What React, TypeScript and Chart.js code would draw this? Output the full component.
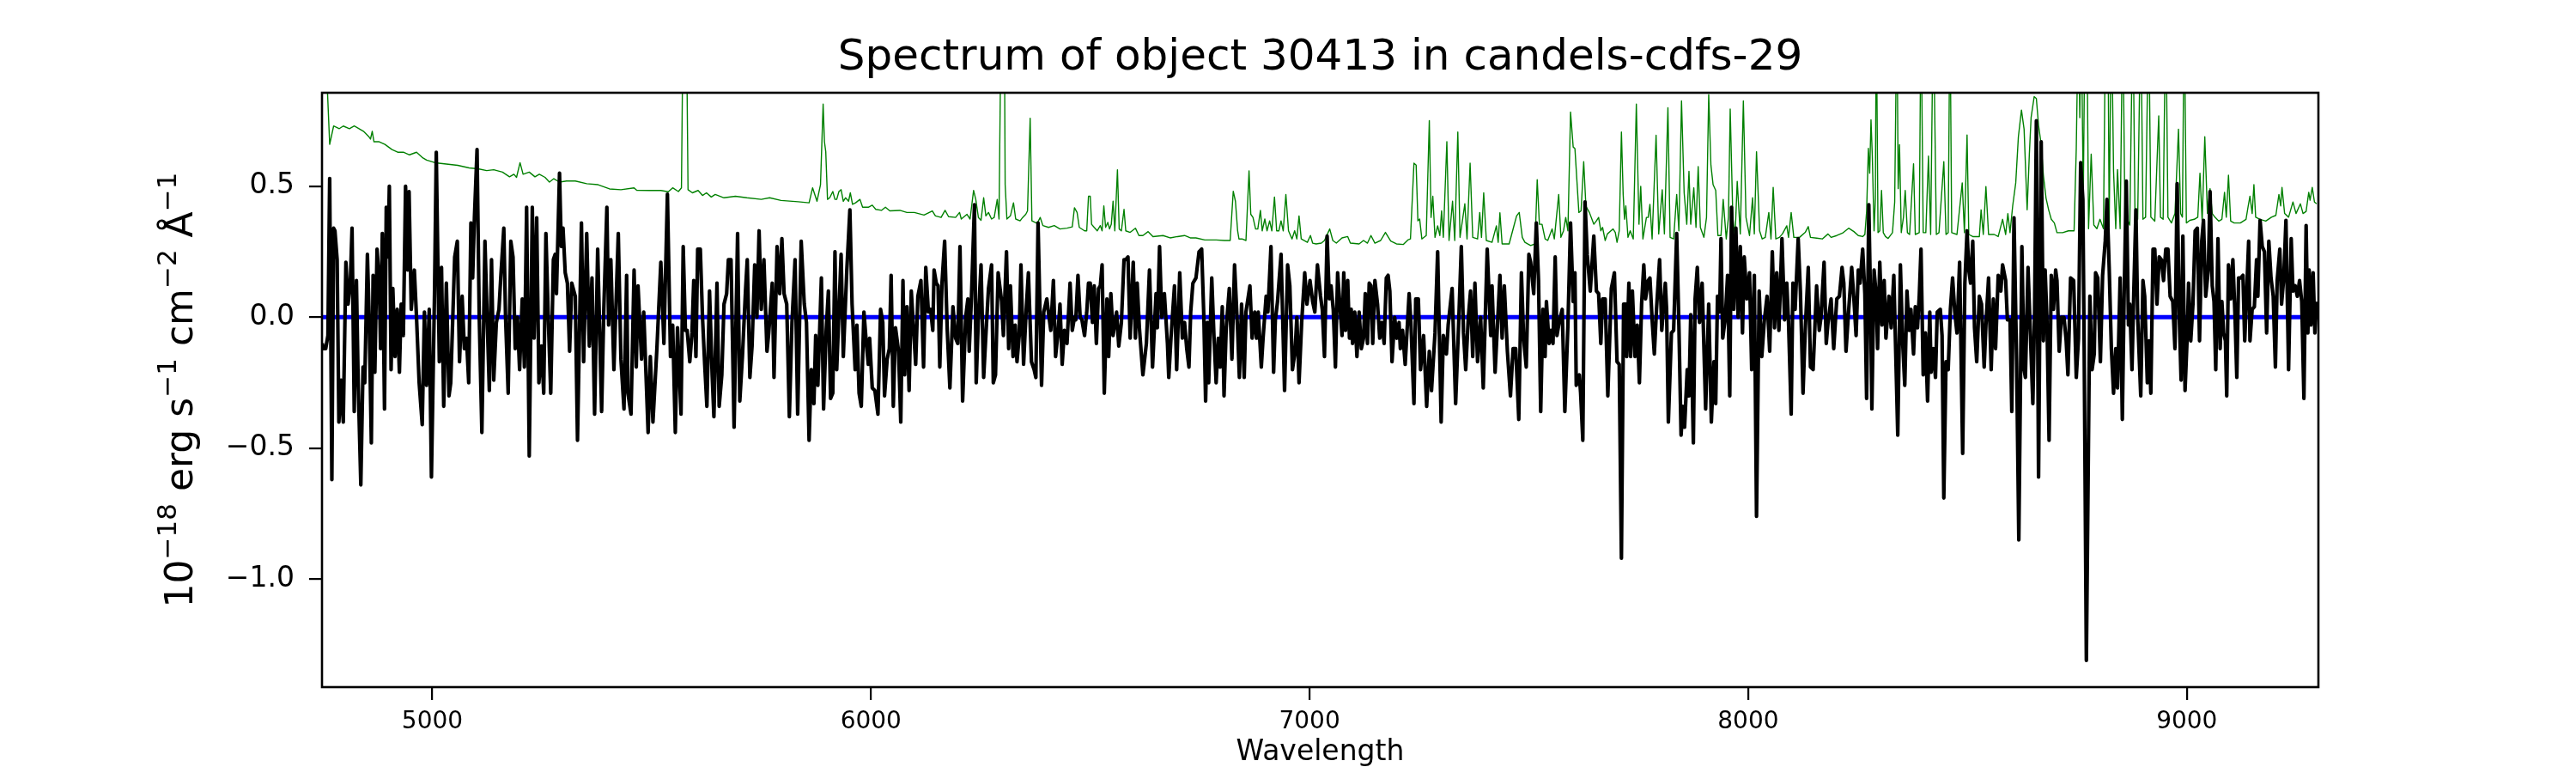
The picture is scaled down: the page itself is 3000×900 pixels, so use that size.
import React, { useEffect, useRef } from 'react';
import Chart from 'chart.js/auto';

const TITLE = 'Spectrum of object 30413 in candels-cdfs-29';
const X_LABEL = 'Wavelength';
// y label pieces: [text, isSuperscript]
const Y_LABEL_PARTS: [string, boolean][] = [
  ['10', false], ['\u221218', true], [' erg s', false], ['\u22121', true],
  [' cm', false], ['\u22122', true], [' \u00c5', false], ['\u22121', true],
];
const X_TICKS = [5000, 6000, 7000, 8000, 9000];
const Y_TICKS = [-1.0, -0.5, 0.0, 0.5];
const X_MIN = 4748.5;
const X_MAX = 9300;
const Y_MIN = -1.412;
const Y_MAX = 0.857;
const ZERO_LEVEL = 0;

// measured spectrum, [wavelength, flux]
const FLUX: [number, number][] = [
  [4749, -0.10], [4752, -0.12], [4757, -0.12], [4762, -0.07], [4766, 0.53], [4771, -0.62], [4775, 0.34], [4778, 0.33], [4783, 0.22], [4787, -0.40],
  [4792, -0.24], [4797, -0.40], [4803, 0.21], [4808, 0.05], [4813, 0.13], [4817, 0.34], [4822, -0.36], [4827, 0.14], [4831, -0.25], [4837, -0.64],
  [4842, -0.19], [4846, -0.25], [4852, 0.24], [4856, 0.00], [4861, -0.48], [4865, 0.16], [4869, -0.21], [4874, 0.26], [4879, 0.14], [4882, -0.12],
  [4886, 0.32], [4891, -0.35], [4895, 0.42], [4899, 0.23], [4902, 0.50], [4906, -0.20], [4910, 0.11], [4915, -0.15], [4920, 0.03], [4925, -0.21],
  [4929, 0.05], [4934, -0.07], [4939, 0.50], [4944, 0.18], [4947, 0.48], [4952, 0.03], [4959, 0.18], [4964, 0.00], [4970, -0.25], [4977, -0.41],
  [4982, 0.02], [4987, -0.26], [4993, 0.03], [4998, -0.61], [5005, 0.09], [5009, 0.63], [5016, -0.17], [5021, 0.19], [5026, -0.34], [5032, 0.13],
  [5038, -0.30], [5042, -0.25], [5051, 0.23], [5057, 0.29], [5062, -0.17], [5068, 0.08], [5073, -0.12], [5078, -0.08], [5083, -0.25], [5088, 0.36],
  [5092, 0.15], [5096, 0.38], [5102, 0.64], [5107, 0.00], [5113, -0.44], [5120, 0.29], [5125, 0.00], [5130, -0.28], [5135, 0.22], [5140, -0.24],
  [5146, -0.02], [5152, 0.03], [5156, 0.15], [5163, 0.34], [5167, 0.00], [5173, -0.29], [5179, 0.29], [5184, 0.23], [5189, -0.12], [5194, 0.00],
  [5199, -0.20], [5205, 0.07], [5210, -0.19], [5215, 0.42], [5221, -0.53], [5228, 0.42], [5232, -0.08], [5238, 0.38], [5243, -0.25], [5249, -0.11],
  [5254, -0.29], [5259, 0.32], [5264, 0.02], [5270, -0.29], [5276, 0.22], [5280, 0.24], [5283, 0.09], [5290, 0.55], [5294, 0.27], [5298, 0.34],
  [5303, 0.17], [5308, 0.13], [5313, -0.13], [5318, 0.13],
  [5326, 0.08], [5331, -0.47], [5340, 0.36], [5345, -0.17], [5352, 0.32], [5358, -0.11], [5364, 0.15], [5370, -0.37], [5377, 0.26], [5386, -0.36],
  [5391, 0.03], [5398, 0.42], [5402, -0.03], [5407, 0.22], [5414, -0.20], [5424, 0.32], [5430, -0.16], [5437, -0.35], [5443, 0.16], [5446, -0.29],
  [5453, -0.37], [5460, 0.18], [5465, -0.19], [5469, 0.12], [5477, -0.16], [5482, 0.02], [5492, -0.44], [5497, -0.15], [5503, -0.40], [5512, -0.12],
  [5521, 0.21], [5528, -0.10], [5536, 0.47], [5543, -0.15], [5548, -0.03], [5554, -0.44], [5559, -0.04], [5567, -0.37], [5572, 0.27], [5577, -0.05],
  [5581, -0.05], [5587, -0.17], [5592, -0.06], [5596, 0.14], [5601, -0.15], [5605, 0.26], [5611, 0.26], [5616, 0.00], [5621, -0.18], [5626, -0.34],
  [5632, 0.10], [5638, -0.22], [5642, -0.38], [5649, 0.13], [5654, -0.34], [5660, -0.22], [5665, 0.05], [5671, 0.09], [5675, 0.22], [5681, 0.22],
  [5688, -0.42], [5696, 0.32], [5701, -0.32], [5707, -0.15], [5714, 0.10], [5718, 0.22], [5724, -0.23], [5729, -0.11], [5735, 0.20], [5740, 0.00],
  [5745, 0.33], [5750, 0.03], [5756, 0.22], [5763, -0.13], [5767, -0.06], [5775, 0.13], [5779, -0.23], [5786, 0.27], [5792, 0.09], [5797, 0.30],
  [5802, 0.09], [5808, 0.05], [5814, -0.38], [5820, -0.02], [5827, 0.22], [5833, -0.37], [5841, 0.29], [5848, 0.05], [5853, -0.02], [5859, -0.47],
  [5864, -0.20], [5870, -0.33], [5874, -0.07], [5879, -0.26], [5887, 0.15], [5892, -0.35], [5898, -0.05], [5903, 0.10], [5908, -0.31],
  [5913, -0.29], [5918, 0.25], [5922, -0.20], [5932, 0.24], [5937, -0.15], [5945, 0.18], [5952, 0.41], [5957, 0.05], [5964, -0.20], [5968, -0.03],
  [5973, -0.29], [5978, -0.34], [5984, 0.02], [5990, -0.11], [5994, -0.18], [5997, -0.08], [6003, -0.27], [6009, -0.28], [6016, -0.37], [6022, 0.03],
  [6027, -0.02], [6031, -0.30], [6037, -0.16], [6042, -0.12], [6046, 0.16], [6051, -0.34], [6056, -0.04], [6063, -0.13], [6068, -0.40], [6073, 0.14],
  [6077, -0.22], [6082, 0.04], [6087, -0.28], [6092, 0.10], [6102, -0.18], [6107, 0.08], [6114, 0.14], [6120, -0.19], [6125, 0.19], [6131, 0.02],
  [6136, 0.03], [6141, -0.05], [6144, 0.18], [6149, 0.13], [6153, 0.12], [6157, -0.19], [6162, 0.13], [6168, 0.29], [6174, -0.05], [6180, -0.27],
  [6187, 0.04], [6193, -0.08], [6198, -0.10], [6203, 0.27], [6209, -0.32], [6216, 0.00], [6221, 0.07], [6224, -0.13], [6229, 0.07], [6236, 0.43],
  [6240, -0.25], [6245, 0.00], [6251, 0.20], [6257, -0.23], [6262, -0.07], [6268, 0.11], [6275, 0.20], [6279, -0.25], [6284, -0.22], [6290, 0.17],
  [6298, 0.06], [6302, -0.07], [6309, 0.25], [6314, -0.12], [6318, 0.12], [6324, -0.15], [6329, -0.03], [6333, -0.17], [6338, -0.07], [6342, 0.20],
  [6348, -0.18], [6354, 0.03], [6359, 0.17], [6366, -0.17], [6372, -0.20], [6376, -0.23], [6381, 0.36], [6389, -0.26], [6394, 0.02], [6401, 0.07],
  [6406, 0.00], [6410, -0.05], [6416, 0.14], [6421, -0.15], [6427, -0.05], [6431, 0.05], [6436, -0.18], [6441, -0.05], [6447, -0.10], [6454, 0.13],
  [6459, -0.05], [6464, 0.00], [6467, -0.01], [6472, 0.16], [6477, 0.00], [6481, -0.01], [6487, -0.07], [6492, 0.02], [6496, 0.13],
  [6500, 0.13], [6505, -0.02], [6509, 0.12], [6514, -0.10], [6519, 0.11], [6523, 0.12], [6527, 0.20], [6532, -0.29], [6538, 0.07], [6542, -0.15],
  [6547, 0.09], [6552, -0.07], [6560, 0.02], [6565, -0.11], [6571, -0.02], [6577, 0.22], [6581, 0.22], [6586, 0.23], [6591, -0.08], [6598, 0.21],
  [6603, -0.08], [6607, 0.13], [6612, -0.04], [6620, -0.22], [6628, -0.10], [6635, 0.18], [6642, -0.19], [6650, 0.09], [6653, -0.04], [6658, 0.27],
  [6663, 0.00], [6669, 0.09], [6676, -0.10], [6679, -0.23], [6684, -0.08], [6692, 0.12], [6697, -0.20], [6704, 0.17], [6710, -0.08], [6715, -0.02],
  [6720, -0.12], [6725, -0.19], [6729, 0.02], [6734, 0.13], [6741, 0.15], [6748, 0.25], [6754, 0.26], [6759, 0.00], [6763, -0.32], [6767, -0.02],
  [6770, -0.25], [6777, 0.15], [6782, -0.07], [6787, -0.25], [6792, -0.08], [6796, -0.19], [6801, 0.04], [6805, -0.30], [6810, -0.04], [6817, 0.11],
  [6823, -0.16], [6829, 0.20], [6836, -0.05], [6840, -0.23], [6845, 0.05], [6851, -0.23], [6855, 0.02], [6864, 0.12], [6869, -0.08], [6875, 0.02],
  [6879, -0.08], [6883, 0.02], [6890, -0.19], [6894, -0.08], [6901, 0.08], [6905, 0.02], [6912, 0.27], [6918, -0.21], [6922, -0.01], [6927, 0.06],
  [6935, 0.24], [6943, -0.28], [6950, 0.20], [6955, 0.12], [6961, -0.20], [6967, -0.13], [6971, 0.00], [6976, -0.25], [6982, -0.02], [6989, 0.17],
  [6994, 0.05], [7001, 0.14], [7007, 0.06], [7012, 0.02], [7018, 0.20], [7025, 0.08], [7029, 0.03], [7034, -0.15], [7040, 0.31], [7045, 0.07],
  [7049, 0.12], [7054, 0.03], [7059, -0.19], [7064, 0.17], [7069, 0.05], [7074, -0.07], [7078, 0.17], [7082, -0.05],
  [7087, 0.14], [7091, -0.08], [7095, 0.03], [7098, -0.10], [7103, 0.02], [7108, -0.15], [7113, 0.02], [7118, -0.12], [7123, -0.08], [7127, 0.09],
  [7132, -0.10], [7136, 0.13], [7140, 0.12], [7144, -0.10], [7149, 0.14], [7155, 0.05], [7160, -0.08], [7165, -0.02], [7170, -0.10], [7175, 0.15],
  [7179, 0.16], [7183, 0.10], [7188, -0.17], [7194, 0.00], [7199, -0.08], [7204, -0.02], [7207, -0.12], [7212, -0.05], [7218, -0.18], [7227, 0.09],
  [7231, -0.02], [7238, -0.33], [7242, 0.07], [7248, 0.07], [7253, -0.20], [7260, -0.07], [7267, -0.34], [7273, -0.13], [7278, -0.28], [7286, -0.06],
  [7292, 0.25], [7300, -0.40], [7305, -0.07], [7312, -0.14], [7316, -0.03], [7325, 0.11], [7333, -0.33], [7340, -0.02], [7346, 0.27], [7351, -0.06],
  [7356, -0.20], [7362, 0.00], [7367, 0.10], [7372, -0.15], [7377, 0.13], [7383, -0.17], [7390, 0.00], [7396, -0.27], [7405, 0.26], [7413, -0.07],
  [7416, 0.12], [7423, -0.21], [7434, 0.16], [7439, -0.08], [7444, 0.12], [7451, -0.13], [7458, -0.30], [7464, -0.12], [7470, -0.12], [7477, -0.39],
  [7483, 0.17], [7488, -0.08], [7494, -0.19], [7500, 0.24], [7504, 0.21], [7511, 0.09], [7517, 0.36], [7522, 0.14], [7527, -0.36], [7532, 0.03],
  [7537, -0.15], [7540, 0.06], [7546, -0.10], [7550, -0.05], [7555, -0.10], [7560, 0.23], [7564, -0.07], [7569, -0.02], [7576, 0.03], [7582, -0.36],
  [7589, -0.03], [7595, 0.36], [7601, 0.06], [7605, 0.17], [7608, -0.26], [7615, -0.22], [7618, -0.29], [7623, -0.47], [7628, 0.44], [7633, 0.24],
  [7640, 0.10], [7648, 0.31], [7654, 0.10], [7659, 0.09], [7664, -0.10], [7668, 0.07],
  [7674, 0.07], [7680, -0.30], [7688, 0.11], [7695, 0.17], [7701, -0.17], [7706, -0.18], [7711, -0.92], [7716, 0.05], [7721, 0.05], [7723, -0.15],
  [7728, 0.13], [7732, -0.15], [7736, 0.10], [7742, -0.15], [7747, -0.03], [7752, -0.25], [7757, 0.05], [7762, 0.20], [7766, 0.07], [7772, 0.14],
  [7776, 0.15], [7781, -0.01], [7786, -0.14], [7791, 0.03], [7798, 0.22], [7803, -0.05], [7811, 0.13], [7814, 0.03], [7818, -0.40], [7825, -0.06],
  [7830, -0.05], [7837, 0.32], [7842, -0.03], [7847, -0.45], [7851, -0.34], [7855, -0.42], [7861, -0.20], [7865, -0.30], [7869, 0.01], [7875, -0.48],
  [7879, 0.07], [7884, 0.19], [7889, -0.02], [7895, 0.13], [7903, -0.35], [7910, 0.05], [7916, -0.40], [7922, -0.17], [7926, -0.33], [7930, 0.08],
  [7935, 0.02], [7938, 0.30], [7942, -0.08], [7948, 0.00], [7953, 0.16], [7958, -0.30], [7962, 0.42], [7967, 0.03], [7972, 0.34], [7977, 0.00],
  [7982, 0.27], [7987, -0.06], [7991, 0.23], [7997, 0.07], [8003, 0.17], [8008, -0.20], [8014, 0.16], [8019, -0.76], [8025, 0.10], [8031, -0.15],
  [8037, -0.01], [8043, 0.08], [8049, -0.13], [8055, 0.25], [8060, -0.04], [8065, 0.17], [8070, -0.05], [8077, 0.30], [8083, -0.01], [8088, 0.13],
  [8092, -0.02], [8098, -0.37], [8102, 0.13], [8107, 0.03], [8114, 0.30], [8119, 0.10], [8125, -0.29], [8130, -0.05], [8137, 0.19], [8142, -0.19],
  [8148, -0.20], [8156, 0.12], [8162, -0.05], [8166, 0.00], [8173, 0.21], [8178, -0.10], [8182, -0.02], [8189, 0.07], [8195, -0.12], [8202, 0.07],
  [8208, 0.08], [8214, 0.19], [8218, 0.13], [8223, -0.13], [8228, 0.00], [8236, 0.19], [8241, 0.07], [8246, -0.07], [8251, 0.18], [8255, 0.13],
  [8261, 0.26], [8266, 0.09], [8270, -0.31], [8275, 0.43], [8279, 0.06], [8282, -0.35], [8287, 0.18], [8292, 0.08], [8295, -0.12], [8300, 0.21],
  [8305, -0.03], [8310, 0.14], [8314, -0.08], [8321, 0.08], [8326, -0.04], [8332, 0.16], [8341, -0.45], [8347, 0.20], [8352, -0.09], [8357, -0.26],
  [8362, 0.10], [8367, -0.05], [8371, 0.03], [8377, -0.14], [8381, 0.04], [8386, -0.04], [8390, 0.08], [8394, 0.26], [8399, -0.22], [8404, -0.06],
  [8409, -0.32], [8414, 0.02], [8417, -0.21], [8422, -0.12], [8427, -0.23], [8431, 0.02], [8438, 0.03], [8442, -0.07], [8446, -0.69], [8451, -0.17],
  [8456, -0.20], [8461, 0.03], [8466, 0.15], [8471, 0.02], [8476, -0.06], [8482, 0.21], [8489, -0.52], [8494, 0.13], [8499, 0.33], [8503, 0.18],
  [8507, 0.13], [8512, 0.29], [8516, -0.04], [8521, -0.17], [8527, 0.08], [8532, 0.05], [8538, -0.19], [8542, -0.03], [8548, 0.15], [8554, -0.20],
  [8559, 0.07], [8564, -0.12], [8570, 0.16], [8576, 0.10], [8580, 0.20], [8587, 0.14], [8591, -0.01], [8597, -0.01], [8601, -0.36], [8606, 0.38],
  [8612, -0.17], [8617, -0.85], [8624, 0.27], [8629, -0.20], [8632, -0.23], [8638, 0.19], [8642, 0.00], [8649, -0.33], [8653, 0.03], [8657, 0.75],
  [8662, -0.61], [8668, 0.67], [8673, -0.09], [8677, 0.18], [8681, 0.00], [8686, -0.47], [8691, 0.16], [8696, 0.03], [8701, 0.18], [8704, 0.14],
  [8709, -0.13], [8714, 0.00], [8720, 0.00], [8725, -0.09], [8729, -0.22], [8735, 0.15], [8742, 0.14], [8748, -0.23], [8753, -0.08], [8758, 0.59],
  [8763, 0.45], [8766, -0.12], [8771, -1.31], [8779, 0.08], [8784, -0.20], [8789, -0.14], [8792, 0.17], [8797, 0.15], [8803, -0.17], [8808, 0.16],
  [8814, 0.29], [8818, 0.45], [8823, 0.19], [8828, -0.12], [8833, -0.29], [8838, -0.12], [8842, -0.27],
  [8848, 0.15], [8853, -0.39], [8857, 0.07], [8862, 0.52], [8867, -0.03], [8870, 0.05], [8875, -0.20], [8879, 0.09], [8884, 0.41], [8888, 0.00],
  [8895, -0.30], [8900, 0.14], [8904, 0.08], [8910, -0.25], [8914, -0.09], [8918, -0.29], [8923, 0.26], [8927, 0.26], [8932, 0.05], [8937, 0.23],
  [8942, 0.22], [8947, 0.14], [8952, 0.26], [8957, 0.26], [8962, 0.08], [8968, 0.06], [8973, -0.12], [8978, 0.51], [8983, -0.01], [8987, -0.24],
  [8991, 0.31], [8996, -0.28], [9001, -0.07], [9004, 0.13], [9009, -0.09], [9014, 0.05], [9019, 0.33], [9024, 0.34], [9029, -0.09], [9034, 0.29],
  [9038, 0.37], [9043, 0.08], [9049, 0.18], [9053, 0.48], [9058, 0.12], [9062, 0.06], [9066, -0.20], [9071, 0.30], [9076, -0.12], [9080, 0.06],
  [9084, -0.06], [9088, -0.09], [9091, -0.30], [9095, 0.20], [9100, 0.07], [9105, 0.22], [9110, 0.00], [9114, -0.23], [9118, 0.15], [9123, 0.15],
  [9128, 0.16], [9132, -0.09], [9137, 0.12], [9141, 0.29], [9144, -0.09], [9149, 0.03], [9154, 0.04], [9159, 0.22], [9162, 0.08], [9167, 0.37],
  [9172, 0.27], [9177, 0.25], [9182, -0.06], [9187, 0.29], [9192, 0.15], [9197, 0.08], [9202, -0.19], [9206, 0.14], [9212, 0.26], [9216, 0.05],
  [9221, 0.15], [9226, 0.37], [9232, -0.20], [9238, 0.30], [9242, 0.10], [9247, 0.12], [9252, 0.08], [9257, 0.14], [9262, 0.06], [9267, -0.31],
  [9272, 0.35], [9276, -0.06], [9279, 0.18], [9283, -0.03], [9288, 0.17], [9292, -0.06], [9296, 0.06],
];

// model / sky curve, [wavelength, flux]; values above the axis are cut off
const MODEL: [number, number][] = [
  [4749, 1.2], [4760, 0.9], [4766, 0.66], [4775, 0.73], [4788, 0.72], [4797, 0.73], [4811, 0.72], [4822, 0.73], [4833, 0.72], [4843, 0.71],
  [4855, 0.69], [4859, 0.68], [4863, 0.71], [4867, 0.67], [4879, 0.67], [4892, 0.66], [4908, 0.64], [4921, 0.63], [4934, 0.63], [4948, 0.62],
  [4964, 0.63], [4977, 0.61], [4987, 0.60], [5006, 0.59], [5032, 0.585], [5058, 0.58], [5084, 0.57], [5104, 0.567], [5124, 0.56], [5140, 0.563],
  [5160, 0.554], [5176, 0.536], [5186, 0.546], [5192, 0.534], [5200, 0.59], [5207, 0.546], [5221, 0.554], [5234, 0.536], [5244, 0.546], [5257, 0.534],
  [5267, 0.516], [5277, 0.529], [5290, 0.516], [5306, 0.52],
  [5326, 0.52], [5352, 0.51], [5378, 0.506], [5404, 0.49], [5430, 0.487], [5460, 0.494], [5466, 0.485], [5495, 0.484], [5521, 0.484], [5538, 0.479],
  [5548, 0.494], [5561, 0.48], [5568, 0.494], [5572, 1.2], [5579, 1.2], [5583, 0.487], [5593, 0.475], [5606, 0.484], [5616, 0.465], [5625, 0.475],
  [5636, 0.459], [5645, 0.469], [5665, 0.456], [5691, 0.462], [5717, 0.456], [5750, 0.45], [5769, 0.456], [5795, 0.446], [5834, 0.441], [5859, 0.437],
  [5867, 0.494], [5877, 0.443], [5885, 0.506], [5891, 0.814], [5894, 0.67], [5897, 0.632], [5901, 0.45], [5906, 0.456],
  [5913, 0.48], [5918, 0.45], [5922, 0.45], [5927, 0.48], [5932, 0.487], [5937, 0.443], [5942, 0.456], [5949, 0.443], [5953, 0.475], [5958, 0.431],
  [5965, 0.437], [5975, 0.45], [5981, 0.42], [5994, 0.42], [6003, 0.428], [6011, 0.412], [6024, 0.408], [6033, 0.42], [6043, 0.406], [6066, 0.408],
  [6082, 0.40], [6099, 0.40], [6121, 0.39], [6140, 0.406], [6147, 0.387], [6160, 0.381], [6169, 0.408], [6177, 0.384], [6193, 0.381], [6202, 0.40],
  [6206, 0.375], [6219, 0.393], [6226, 0.375], [6234, 0.484], [6239, 0.45], [6245, 0.381], [6251, 0.37], [6257, 0.456], [6262, 0.387], [6268, 0.40],
  [6275, 0.375], [6281, 0.381], [6288, 0.45], [6292, 0.375], [6297, 1.2], [6304, 1.2], [6306, 0.506], [6310, 0.375], [6318, 0.387], [6325, 0.437],
  [6330, 0.375], [6340, 0.368], [6346, 0.381], [6353, 0.393], [6357, 0.406], [6363, 0.76], [6367, 0.368], [6379, 0.358], [6386, 0.381], [6392, 0.35],
  [6405, 0.343], [6418, 0.35], [6431, 0.337], [6447, 0.34], [6459, 0.345], [6464, 0.418], [6470, 0.40], [6475, 0.343], [6487, 0.33], [6492, 0.33],
  [6496, 0.462],
  [6500, 0.462], [6503, 0.355], [6509, 0.343], [6516, 0.33], [6523, 0.35], [6527, 0.33], [6531, 0.425], [6535, 0.343], [6540, 0.362], [6544, 0.337],
  [6548, 0.355], [6552, 0.443], [6556, 0.33], [6562, 0.563], [6566, 0.337], [6571, 0.33], [6577, 0.412], [6581, 0.33], [6591, 0.324], [6603, 0.34],
  [6611, 0.312], [6620, 0.312], [6632, 0.327], [6643, 0.308], [6666, 0.312], [6682, 0.303], [6699, 0.308], [6715, 0.312], [6728, 0.303], [6741, 0.303],
  [6761, 0.295], [6787, 0.295], [6806, 0.293], [6819, 0.293], [6826, 0.481], [6831, 0.443], [6836, 0.33], [6839, 0.299], [6846, 0.299], [6855, 0.293],
  [6862, 0.559], [6866, 0.393], [6871, 0.381], [6877, 0.337], [6882, 0.337], [6888, 0.408], [6892, 0.33], [6898, 0.375], [6903, 0.33], [6909, 0.368],
  [6914, 0.33], [6920, 0.459], [6925, 0.33], [6930, 0.33], [6935, 0.368], [6940, 0.33], [6946, 0.469], [6952, 0.33], [6960, 0.299], [6966, 0.33],
  [6971, 0.299], [6976, 0.387], [6981, 0.299], [6995, 0.286], [7002, 0.312], [7007, 0.283], [7015, 0.28], [7027, 0.283], [7034, 0.293], [7046, 0.337],
  [7053, 0.293], [7061, 0.283], [7074, 0.303],
  [7087, 0.308], [7093, 0.283], [7113, 0.28], [7123, 0.293], [7132, 0.283], [7140, 0.312], [7149, 0.283], [7162, 0.293], [7173, 0.324], [7185, 0.291],
  [7198, 0.28], [7214, 0.278], [7224, 0.295], [7230, 0.299], [7238, 0.588], [7243, 0.581], [7247, 0.368], [7251, 0.375], [7256, 0.299], [7266, 0.312],
  [7273, 0.751], [7277, 0.381], [7281, 0.462], [7286, 0.305], [7292, 0.349], [7297, 0.312], [7301, 0.406], [7305, 0.305], [7313, 0.67], [7318, 0.293],
  [7326, 0.443], [7331, 0.293], [7338, 0.707], [7343, 0.305], [7354, 0.433], [7359, 0.299], [7366, 0.588], [7372, 0.305], [7383, 0.299], [7388, 0.40],
  [7392, 0.305], [7397, 0.475], [7403, 0.293], [7416, 0.286], [7426, 0.349], [7430, 0.286], [7434, 0.399], [7439, 0.28], [7455, 0.28], [7465, 0.343],
  [7472, 0.387], [7478, 0.40], [7485, 0.305], [7491, 0.286], [7504, 0.274], [7514, 0.28], [7519, 0.525], [7524, 0.355], [7530, 0.355], [7537, 0.299],
  [7543, 0.293], [7553, 0.337], [7558, 0.299], [7568, 0.469], [7573, 0.305], [7579, 0.33], [7584, 0.381], [7589, 0.33], [7595, 0.783], [7601, 0.65],
  [7605, 0.644], [7614, 0.40], [7619, 0.406], [7625, 0.594], [7630, 0.424], [7638, 0.40], [7648, 0.355], [7654, 0.368], [7659, 0.381], [7664, 0.33],
  [7668, 0.343],
  [7674, 0.293], [7679, 0.318], [7687, 0.33], [7692, 0.337], [7697, 0.324], [7701, 0.286], [7706, 0.33], [7711, 0.707], [7715, 0.468], [7718, 0.374],
  [7721, 0.425], [7726, 0.305], [7731, 0.33], [7738, 0.299], [7745, 0.814], [7751, 0.355], [7755, 0.50], [7760, 0.299], [7768, 0.381], [7772, 0.381],
  [7776, 0.431], [7781, 0.299], [7790, 0.695], [7796, 0.318], [7804, 0.487], [7809, 0.318], [7817, 0.80], [7822, 0.305], [7830, 0.299], [7837, 0.469],
  [7842, 0.33], [7848, 0.826], [7854, 0.475], [7860, 0.355], [7865, 0.557], [7869, 0.355], [7876, 0.494], [7881, 0.343], [7886, 0.575], [7891, 0.343],
  [7899, 0.305], [7905, 0.381], [7910, 0.85], [7915, 0.581], [7920, 0.506], [7926, 0.484], [7931, 0.312], [7938, 0.312], [7943, 0.45], [7950, 0.299],
  [7955, 0.381], [7959, 0.795], [7965, 0.381], [7970, 0.305], [7975, 0.519], [7982, 0.318], [7989, 0.826], [7995, 0.381], [8003, 0.312], [8010, 0.456],
  [8014, 0.318], [8019, 0.632], [8026, 0.33], [8032, 0.299], [8039, 0.305], [8047, 0.40], [8052, 0.299], [8057, 0.496], [8063, 0.299], [8071, 0.305],
  [8078, 0.318], [8088, 0.349], [8092, 0.305], [8098, 0.40], [8104, 0.305], [8117, 0.305], [8130, 0.324], [8137, 0.346], [8142, 0.305], [8156, 0.302],
  [8169, 0.299], [8182, 0.318], [8189, 0.305], [8202, 0.312], [8215, 0.321], [8229, 0.34], [8241, 0.327], [8251, 0.312],
  [8261, 0.308], [8266, 0.316], [8270, 0.404], [8274, 0.645], [8277, 0.55], [8280, 0.754], [8283, 0.615], [8287, 0.33], [8290, 0.455], [8292, 1.2],
  [8296, 0.323], [8300, 0.33], [8304, 0.484], [8308, 0.323], [8313, 0.308], [8319, 0.301], [8329, 0.323], [8334, 0.44], [8339, 1.2], [8342, 0.491],
  [8345, 0.659], [8349, 0.323], [8354, 0.382], [8358, 0.484], [8363, 0.323], [8368, 0.316], [8377, 0.586], [8381, 0.316], [8390, 0.323], [8394, 1.2],
  [8399, 0.323], [8405, 0.323], [8411, 0.615], [8416, 0.316], [8422, 1.2], [8429, 0.316], [8435, 0.323], [8446, 0.594], [8451, 0.316], [8456, 0.323],
  [8460, 1.2], [8464, 0.323], [8476, 0.316], [8488, 0.513], [8493, 0.323], [8499, 0.696], [8503, 0.316], [8512, 0.308], [8527, 0.308], [8531, 0.41],
  [8536, 0.316], [8542, 0.499], [8548, 0.316], [8561, 0.316], [8570, 0.308], [8580, 0.374], [8587, 0.316], [8592, 0.396], [8597, 0.323], [8603, 0.425],
  [8610, 0.513], [8616, 0.689], [8623, 0.791], [8629, 0.718], [8636, 0.41], [8641, 0.623], [8645, 0.762], [8652, 0.842], [8657, 0.835], [8662, 0.732],
  [8668, 0.659], [8673, 0.542], [8679, 0.455], [8685, 0.41], [8691, 0.374], [8698, 0.36], [8704, 0.323], [8717, 0.323], [8730, 0.33], [8743, 0.33],
  [8748, 0.645], [8753, 1.2], [8756, 0.762], [8759, 1.2], [8764, 0.455], [8768, 1.2], [8772, 1.2], [8776, 0.338], [8782, 0.623], [8788, 0.352],
  [8795, 0.338], [8802, 0.374], [8810, 0.338], [8815, 1.2], [8820, 1.2], [8823, 0.345], [8828, 1.2], [8833, 0.557], [8838, 0.338], [8842, 0.564],
  [8848, 0.338], [8854, 1.2], [8859, 0.352], [8866, 0.367], [8870, 0.352], [8877, 1.2], [8882, 0.367], [8888, 0.374], [8895, 1.2], [8900, 0.374],
  [8906, 0.382], [8913, 1.2], [8918, 0.382], [8927, 0.367], [8936, 0.769], [8940, 0.382], [8946, 0.374], [8952, 1.2], [8957, 0.382], [8965, 0.36],
  [8973, 0.396], [8981, 0.718], [8986, 0.396], [8990, 0.382], [8994, 1.2], [8999, 0.36], [9007, 0.37], [9017, 0.374], [9025, 0.382], [9030, 0.55],
  [9035, 0.367], [9041, 0.689], [9047, 0.396], [9053, 0.491], [9058, 0.396], [9064, 0.382], [9073, 0.367], [9080, 0.374], [9086, 0.477], [9090, 0.382],
  [9095, 0.542], [9100, 0.367], [9108, 0.36], [9122, 0.36], [9135, 0.374], [9140, 0.425], [9144, 0.462], [9149, 0.396], [9153, 0.506], [9157, 0.382],
  [9167, 0.374], [9180, 0.367], [9193, 0.382], [9203, 0.389], [9210, 0.469], [9214, 0.425], [9217, 0.496], [9223, 0.396], [9232, 0.382], [9242, 0.44],
  [9249, 0.396], [9259, 0.433], [9265, 0.396], [9272, 0.404], [9278, 0.477], [9281, 0.447], [9286, 0.496], [9291, 0.44], [9296, 0.433],
];

const FONT = '"DejaVu Sans", sans-serif';

const toXY = (pts: [number, number][]) => pts.map(([x, y]) => ({ x, y }));

// frame on all four sides plus the mathtext-like y label
const framePlugin = {
  id: 'frameAndYLabel',
  afterDatasetsDraw(chart: any) {
    const { ctx, chartArea: a } = chart;
    ctx.save();
    ctx.strokeStyle = '#000';
    ctx.lineWidth = 2.6;
    ctx.strokeRect(a.left, a.top, a.right - a.left, a.bottom - a.top);
    ctx.restore();
  },
  afterDraw(chart: any) {
    const { ctx, chartArea: a } = chart;
    const mainFont = `44px ${FONT}`;
    const supFont = `31px ${FONT}`;
    ctx.save();
    ctx.fillStyle = '#000';
    ctx.textAlign = 'left';
    ctx.textBaseline = 'alphabetic';
    const widths = Y_LABEL_PARTS.map(([t, sup]) => {
      ctx.font = sup ? supFont : mainFont;
      return ctx.measureText(t).width;
    });
    const total = widths.reduce((s, w) => s + w, 0);
    ctx.translate(224, (a.top + a.bottom) / 2);
    ctx.rotate(-Math.PI / 2);
    let x = -total / 2;
    Y_LABEL_PARTS.forEach(([t, sup], i) => {
      ctx.font = sup ? supFont : mainFont;
      ctx.fillText(t, x, sup ? -19 : 0);
      x += widths[i];
    });
    ctx.restore();
  },
};

export default function App() {
  const chartRef = useRef<HTMLCanvasElement>(null);
  const chartInstance = useRef<Chart | null>(null);

  useEffect(() => {
    if (!chartRef.current) return;
    if (chartInstance.current) chartInstance.current.destroy();
    const ctx = chartRef.current.getContext('2d');
    if (!ctx) return;

    chartInstance.current = new Chart(ctx, {
      type: 'line',
      data: {
        datasets: [
          {
            label: 'flux',
            data: toXY(FLUX),
            borderColor: '#000000',
            borderWidth: 4.2,
            borderJoinStyle: 'round',
            pointRadius: 0,
            tension: 0,
            clip: 0,
          },
          {
            label: 'model',
            data: toXY(MODEL),
            borderColor: '#008000',
            borderWidth: 1.4,
            borderJoinStyle: 'round',
            pointRadius: 0,
            tension: 0,
            clip: 0,
          },
          {
            label: 'zero',
            data: [{ x: X_MIN, y: ZERO_LEVEL }, { x: X_MAX, y: ZERO_LEVEL }],
            borderColor: '#0000ff',
            borderWidth: 5,
            pointRadius: 0,
            clip: 0,
          },
        ],
      },
      options: {
        responsive: false,
        devicePixelRatio: 1,
        animation: false,
        events: [],
        layout: { padding: { left: 0, top: 0, right: 300, bottom: 0 } },
        plugins: {
          legend: { display: false },
          tooltip: { enabled: false },
          title: {
            display: true,
            text: TITLE,
            fullSize: false,
            color: '#000',
            font: { family: FONT, size: 50, weight: 'normal' },
            padding: { top: 38, bottom: 10 },
          },
        },
        scales: {
          x: {
            type: 'linear',
            min: X_MIN,
            max: X_MAX,
            afterBuildTicks: (scale: any) => {
              scale.ticks = X_TICKS.map((v) => ({ value: v }));
            },
            afterFit: (scale: any) => {
              scale.height = 100;
            },
            ticks: {
              autoSkip: false,
              maxRotation: 0,
              padding: 9,
              color: '#000',
              font: { family: FONT, size: 28 },
              callback: (v: any) => String(v),
            },
            grid: {
              drawOnChartArea: false,
              drawTicks: true,
              tickLength: 15,
              tickWidth: 2.2,
              tickColor: '#000',
              color: '#000',
              lineWidth: 2.2,
            },
            border: { display: false },
            title: {
              display: true,
              text: X_LABEL,
              color: '#000',
              font: { family: FONT, size: 33 },
              padding: { top: 0, bottom: 4 },
            },
          },
          y: {
            type: 'linear',
            min: Y_MIN,
            max: Y_MAX,
            afterBuildTicks: (scale: any) => {
              scale.ticks = Y_TICKS.map((v) => ({ value: v }));
            },
            afterFit: (scale: any) => {
              scale.width = 375;
            },
            ticks: {
              autoSkip: false,
              padding: 17,
              color: '#000',
              font: { family: FONT, size: 33 },
              callback: (v: any) => (v < 0 ? '\u2212' : '') + Math.abs(Number(v)).toFixed(1),
            },
            grid: {
              drawOnChartArea: false,
              drawTicks: true,
              tickLength: 15,
              tickWidth: 2.2,
              tickColor: '#000',
              color: '#000',
              lineWidth: 2.2,
            },
            border: { display: false },
          },
        },
      },
      plugins: [framePlugin],
    } as any);

    return () => {
      if (chartInstance.current) {
        chartInstance.current.destroy();
        chartInstance.current = null;
      }
    };
  }, []);

  return (
    <div style={{ position: 'absolute', left: 0, top: 0, width: 3000, height: 900, background: '#fff' }}>
      <canvas ref={chartRef} width={3000} height={900} style={{ width: 3000, height: 900 }}></canvas>
    </div>
  );
}
